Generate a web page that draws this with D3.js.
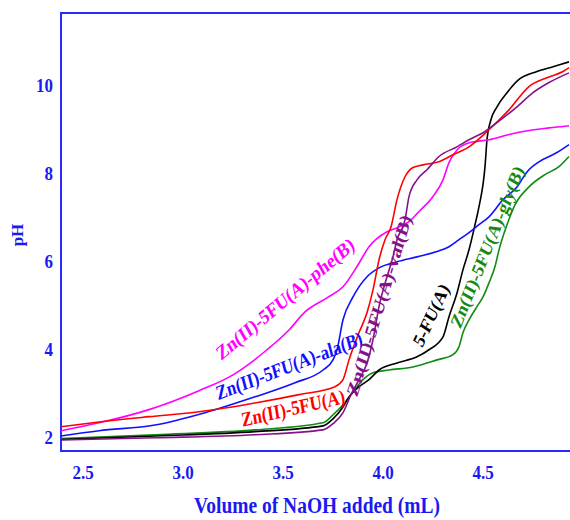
<!DOCTYPE html>
<html lang="en">
<head>
<meta charset="UTF-8" />
<title>Potentiometric titration curves</title>
<script src="https://d3js.org/d3.v7.min.js"></script>
<style>
  body { margin: 0; background: #fff; overflow: hidden; }
  svg { display: block; }
  text { font-family: "Liberation Serif", "Times New Roman", serif; font-weight: bold; }
</style>
</head>
<body>
<svg width="570" height="520"></svg>
<script>
// each point: [volume of NaOH added (mL), pH]
const fuA = [[2.39,1.95],[2.86,2.03],[3.36,2.13],[3.70,2.26],[3.75,2.42],[3.80,2.69],[3.83,2.92],[3.88,3.15],[3.93,3.31],[3.98,3.53],[4.07,3.69],[4.17,3.83],[4.23,3.99],[4.30,4.28],[4.33,4.74],[4.37,5.28],[4.40,5.81],[4.43,6.26],[4.46,6.83],[4.48,7.24],[4.51,8.15],[4.52,8.76],[4.54,9.22],[4.57,9.51],[4.62,9.83],[4.68,10.13],[4.77,10.31],[4.85,10.42],[4.93,10.53]];
const znFu = [[2.39,2.24],[2.58,2.35],[2.83,2.47],[3.08,2.58],[3.36,2.78],[3.58,2.97],[3.76,3.15],[3.80,3.31],[3.83,3.76],[3.88,4.38],[3.92,4.83],[3.95,5.35],[3.98,6.03],[4.01,6.49],[4.04,6.78],[4.07,7.40],[4.11,7.92],[4.15,8.13],[4.20,8.19],[4.28,8.26],[4.35,8.42],[4.43,8.60],[4.53,8.99],[4.63,9.44],[4.73,9.97],[4.82,10.17],[4.90,10.31],[4.93,10.40]];
const znFuAla = [[2.39,2.03],[2.58,2.15],[2.86,2.28],[3.11,2.56],[3.36,2.92],[3.56,3.24],[3.70,3.53],[3.75,3.76],[3.77,3.99],[3.80,4.67],[3.85,5.19],[3.92,5.65],[3.98,5.85],[4.07,5.99],[4.17,6.10],[4.27,6.22],[4.33,6.33],[4.38,6.49],[4.43,6.65],[4.48,6.83],[4.53,7.01],[4.60,7.40],[4.67,7.69],[4.72,8.03],[4.78,8.26],[4.87,8.47],[4.93,8.65]];
const znFuPhe = [[2.39,2.15],[2.58,2.33],[2.83,2.63],[3.08,3.06],[3.25,3.42],[3.42,3.99],[3.53,4.44],[3.61,4.85],[3.72,5.17],[3.80,5.42],[3.87,5.88],[3.93,6.33],[4.02,6.67],[4.08,6.78],[4.13,6.90],[4.18,7.13],[4.25,7.47],[4.30,7.85],[4.33,8.24],[4.37,8.53],[4.43,8.69],[4.53,8.76],[4.63,8.88],[4.73,8.97],[4.83,9.03],[4.93,9.08]];
const znFuGly = [[2.39,1.97],[2.86,2.06],[3.36,2.17],[3.70,2.33],[3.75,2.51],[3.80,2.74],[3.85,3.03],[3.90,3.31],[3.95,3.47],[4.03,3.53],[4.15,3.60],[4.27,3.76],[4.35,3.88],[4.38,4.06],[4.40,4.38],[4.43,4.67],[4.47,4.97],[4.50,5.19],[4.53,5.51],[4.56,5.88],[4.58,6.26],[4.62,6.83],[4.66,7.28],[4.73,7.69],[4.81,7.97],[4.88,8.15],[4.93,8.38]];
const znFuVal = [[2.39,1.94],[2.86,1.99],[3.36,2.06],[3.70,2.17],[3.75,2.31],[3.80,2.56],[3.84,2.97],[3.88,3.31],[3.92,3.69],[3.95,4.22],[3.98,4.97],[4.02,5.65],[4.05,6.10],[4.07,6.49],[4.11,6.94],[4.13,7.47],[4.17,7.85],[4.22,8.08],[4.28,8.38],[4.37,8.60],[4.43,8.76],[4.50,8.92],[4.57,9.15],[4.67,9.51],[4.75,9.83],[4.83,10.06],[4.93,10.28]];

const xTicks = [2.5, 3.0, 3.5, 4.0, 4.5];
const yTicks = [2, 4, 6, 8, 10];

const series = [
  { values: znFuGly, color: "#138a13" },
  { values: fuA, color: "#000000" },
  { values: znFuAla, color: "#1010ff" },
  { values: znFuPhe, color: "#ff00ff" },
  { values: znFu, color: "#ff0000" },
  { values: znFuVal, color: "#85128a" }
];

// curve labels, placed in data units
const labels = [
  { text: "Zn(II)-5FU(A)-phe(B)", v: 3.51, ph: 5.15, angle: -40, len: 176, color: "#ff00ff" },
  { text: "Zn(II)-5FU(A)-ala(B)", v: 3.53, ph: 3.63, angle: -21, len: 156, color: "#1010ff" },
  { text: "Zn(II)-5FU(A)", v: 3.55, ph: 2.67, angle: -13, len: 106, color: "#ff0000" },
  { text: "Zn(II)-5FU(A)-val(B)", v: 3.98, ph: 5.0, angle: -73, len: 188, color: "#85128a" },
  { text: "5-FU(A)", v: 4.24, ph: 4.78, angle: -65, len: 66, color: "#000000" },
  { text: "Zn(II)-5FU(A)-gly(B)", v: 4.52, ph: 6.33, angle: -68, len: 172, color: "#138a13" }
];

const width = 570, height = 520;
const stretch = 1.2; // the source figure is drawn a little taller than wide
const axisColor = "#2a2aff", textColor = "#1a1af0";
const svg = d3.select("svg");

const x = d3.scaleLinear().domain([2.39, 5.0]).range([61, 583]);
const y = d3.scaleLinear().domain([1.69, 11.64]).range([451, 13]);

// frame: left, top and bottom edges (the right side is cut off)
svg.append("path")
  .attr("d", `M${width + 10},${y.range()[1]}H${x.range()[0]}V${y.range()[0]}H${width + 10}`)
  .attr("fill", "none")
  .attr("stroke", axisColor)
  .attr("stroke-width", 2);

// tick labels
svg.append("g").selectAll("text")
  .data(xTicks)
  .join("text")
  .attr("transform", d => `translate(${x(d)},479) scale(1,1.1)`)
  .attr("text-anchor", "middle")
  .attr("font-size", 17)
  .attr("fill", textColor)
  .text(d3.format(".1f"));

svg.append("g").selectAll("text")
  .data(yTicks)
  .join("text")
  .attr("transform", d => `translate(53,${y(d)}) scale(1,1.15)`)
  .attr("dy", "0.35em")
  .attr("text-anchor", "end")
  .attr("font-size", 17)
  .attr("fill", textColor)
  .text(d => d);

// axis titles
svg.append("text")
  .attr("transform", "translate(317,513) scale(1,1.2)")
  .attr("text-anchor", "middle")
  .attr("font-size", 19.5)
  .attr("fill", textColor)
  .text("Volume of NaOH added (mL)");

svg.append("text")
  .attr("transform", "translate(23,235) rotate(-90)")
  .attr("text-anchor", "middle")
  .attr("font-size", 17)
  .attr("fill", textColor)
  .text("pH");

// titration curves
const line = d3.line()
  .x(d => x(d[0]))
  .y(d => y(d[1]))
  .curve(d3.curveMonotoneX);

svg.append("g").selectAll("path")
  .data(series)
  .join("path")
  .attr("d", d => line(d.values))
  .attr("fill", "none")
  .attr("stroke", d => d.color)
  .attr("stroke-width", 1.6);

// rotated curve labels; the vertical stretch is undone in the angle and length
svg.append("g").selectAll("text")
  .data(labels)
  .join("text")
  .attr("transform", d => {
    const a = Math.atan(Math.tan(d.angle * Math.PI / 180) / stretch);
    return `translate(${x(d.v)},${y(d.ph)}) scale(1,${stretch}) rotate(${a * 180 / Math.PI})`;
  })
  .attr("text-anchor", "middle")
  .attr("dy", "0.35em")
  .attr("font-size", 17)
  .attr("textLength", d => {
    const a = Math.atan(Math.tan(d.angle * Math.PI / 180) / stretch);
    return d.len / Math.hypot(Math.cos(a), stretch * Math.sin(a));
  })
  .attr("lengthAdjust", "spacingAndGlyphs")
  .attr("fill", d => d.color)
  .text(d => d.text);
</script>
</body>
</html>
